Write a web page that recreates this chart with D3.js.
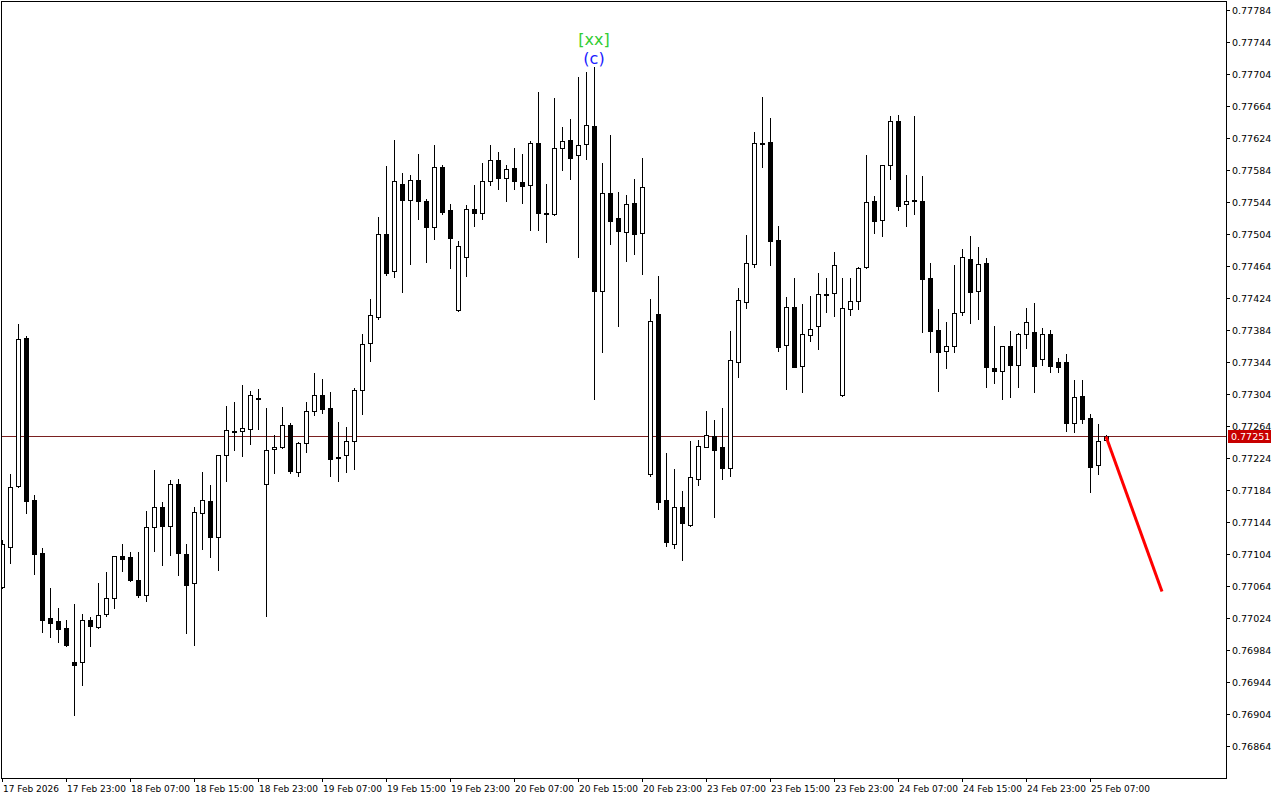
<!DOCTYPE html>
<html><head><meta charset="utf-8">
<script src="https://cdn.jsdelivr.net/npm/d3@7/dist/d3.min.js"></script>
<style>html,body{margin:0;padding:0;background:#fff;}svg{display:block;}</style>
</head><body>
<script>
const opens = [.77063,.77113,.77189,.77374,.77172,.77105,.77024,.77020,.77012,.76969,
.76969,.77022,.77013,.77029,.77049,.77102,.77100,.77072,.77053,.77138,
.77163,.77139,.77192,.77104,.77068,.77155,.77170,.77125,.77228,.77258,
.77258,.77260,.77299,.77192,.77235,.77238,.77265,.77207,.77243,.77283,
.77303,.77287,.77225,.77228,.77245,.77309,.77368,.77400,.77504,.77458,
.77567,.77547,.77572,.77545,.77513,.77588,.77534,.77409,.77475,.77535,
.77530,.77570,.77597,.77574,.77587,.77569,.77565,.77618,.77530,.77529,
.77612,.77622,.77603,.77617,.77639,.77433,.77555,.77524,.77507,.77543,
.77505,.77204,.77404,.77172,.77117,.77163,.77140,.77198,.77238,.77252,
.77238,.77212,.77344,.77419,.77467,.77618,.77619,.77497,.77365,.77413,
.77339,.77378,.77389,.77429,.77430,.77303,.77410,.77420,.77463,.77545,
.77522,.77590,.77645,.77542,.77547,.77545,.77449,.77384,.77358,.77364,
.77407,.77473,.77433,.77468,.77337,.77333,.77364,.77340,.77379,.77382,
.77348,.77379,.77344,.77344,.77268,.77302,.77274,.77215,.77247];
const highs = [.77122,.77204,.77392,.77377,.77178,.77112,.77062,.77037,.77022,.77042,
.77029,.77025,.77068,.77082,.77102,.77117,.77107,.77107,.77158,.77209,
.77169,.77197,.77198,.77117,.77163,.77207,.77190,.77228,.77289,.77294,
.77315,.77308,.77310,.77287,.77253,.77288,.77268,.77244,.77294,.77330,
.77323,.77307,.77269,.77263,.77312,.77379,.77423,.77525,.77589,.77622,
.77580,.77578,.77604,.77548,.77615,.77590,.77542,.77495,.77540,.77565,
.77593,.77615,.77607,.77590,.77612,.77604,.77620,.77682,.77567,.77674,
.77638,.77648,.77700,.77707,.77713,.77593,.77628,.77557,.77553,.77573,
.77599,.77423,.77452,.77230,.77210,.77183,.77245,.77247,.77283,.77272,
.77287,.77383,.77437,.77503,.77632,.77675,.77649,.77514,.77425,.77449,
.77417,.77427,.77455,.77449,.77482,.77449,.77449,.77463,.77603,.77552,
.77590,.77652,.77653,.77578,.77652,.77577,.77468,.77410,.77394,.77465,
.77485,.77502,.77488,.77474,.77389,.77364,.77383,.77380,.77412,.77418,
.77387,.77384,.77349,.77354,.77322,.77322,.77279,.77267,.77253];
const lows = [.77062,.77093,.77188,.77155,.77079,.77007,.77000,.76994,.76989,.76903,
.76940,.76989,.77012,.77027,.77037,.77083,.77070,.77050,.77045,.77108,
.77090,.77103,.77078,.77005,.76990,.77110,.77100,.77084,.77195,.77234,
.77227,.77242,.77260,.77027,.77205,.77237,.77205,.77202,.77232,.77278,
.77280,.77202,.77195,.77207,.77210,.77279,.77345,.77398,.77453,.77450,
.77432,.77467,.77523,.77469,.77498,.77529,.77462,.77408,.77452,.77514,
.77523,.77565,.77560,.77545,.77560,.77543,.77509,.77509,.77494,.77528,
.77584,.77573,.77475,.77598,.77298,.77357,.77492,.77389,.77470,.77479,
.77454,.77202,.77160,.77114,.77112,.77097,.77139,.77190,.77238,.77150,
.77198,.77202,.77325,.77412,.77463,.77588,.77465,.77358,.77310,.77338,
.77307,.77370,.77360,.77407,.77402,.77302,.77403,.77410,.77462,.77505,
.77502,.77573,.77534,.77514,.77529,.77382,.77357,.77308,.77337,.77357,
.77403,.77393,.77398,.77313,.77318,.77298,.77300,.77313,.77362,.77307,
.77340,.77332,.77332,.77258,.77257,.77268,.77182,.77204,.77247];
const closes = [.77117,.77188,.77373,.77170,.77104,.77022,.77018,.77010,.76990,.76965,
.77022,.77014,.77028,.77049,.77101,.77098,.77072,.77053,.77138,.77163,
.77139,.77192,.77105,.77065,.77157,.77172,.77125,.77228,.77259,.77258,
.77262,.77303,.77299,.77234,.77238,.77265,.77208,.77243,.77283,.77303,
.77285,.77223,.77225,.77245,.77309,.77367,.77403,.77504,.77455,.77570,
.77547,.77572,.77545,.77513,.77588,.77532,.77499,.77489,.77535,.77530,
.77570,.77597,.77574,.77585,.77570,.77564,.77618,.77530,.77530,.77612,
.77620,.77599,.77615,.77640,.77433,.77555,.77520,.77508,.77542,.77504,
.77563,.77395,.77169,.77119,.77163,.77143,.77200,.77239,.77253,.77234,
.77212,.77347,.77422,.77468,.77618,.77618,.77495,.77363,.77413,.77338,
.77379,.77385,.77429,.77429,.77465,.77412,.77420,.77462,.77544,.77520,
.77590,.77645,.77539,.77545,.77547,.77448,.77383,.77357,.77364,.77405,
.77475,.77432,.77467,.77338,.77333,.77364,.77340,.77379,.77394,.77339,
.77379,.77339,.77338,.77268,.77300,.77273,.77213,.77245,.77251];

const priceTickLabels = ["0.77784","0.77744","0.77704","0.77664","0.77624","0.77584","0.77544","0.77504",
"0.77464","0.77424","0.77384","0.77344","0.77304","0.77264","0.77224","0.77184","0.77144","0.77104",
"0.77064","0.77024","0.76984","0.76944","0.76904","0.76864"];
const timeTickIndex = [0,8,16,24,32,40,48,56,64,72,80,88,96,104,112,120,128,136];
const timeTickLabels = ["17 Feb 2026","17 Feb 23:00","18 Feb 07:00","18 Feb 15:00","18 Feb 23:00","19 Feb 07:00",
"19 Feb 15:00","19 Feb 23:00","20 Feb 07:00","20 Feb 15:00","20 Feb 23:00","23 Feb 07:00","23 Feb 15:00",
"23 Feb 23:00","24 Feb 07:00","24 Feb 15:00","24 Feb 23:00","25 Feb 07:00"];
const currentPrice = 0.77251;
const projectionIndex = [138, 145];
const projectionPrice = [0.77251, 0.77057];
const waveLabelIndex = 74;
const waveLabels = ["[xx]", "(c)"];

const W = 1280, H = 800;
const plotL = 1, plotR = 1226, plotT = 1, plotB = 778;

const svg = d3.select("body").append("svg").attr("width", W).attr("height", H)
  .style("font-family", "'DejaVu Sans', Tahoma, sans-serif");

const y = d3.scaleLinear().domain([0.76864, 0.77784]).range([746, 10]);
const x = d3.scaleLinear().domain([0, 138]).range([2, 1106]);

const data = opens.map((o, i) => ({i, o, h: highs[i], l: lows[i], c: closes[i]}));

svg.append("defs").append("clipPath").attr("id", "clip")
  .append("rect").attr("x", plotL + 1).attr("y", plotT + 1).attr("width", plotR - plotL - 1).attr("height", plotB - plotT - 1);

// frame
svg.append("rect").attr("x", plotL + 0.5).attr("y", plotT + 0.5)
  .attr("width", plotR - plotL).attr("height", plotB - plotT)
  .attr("fill", "none").attr("stroke", "#000").attr("stroke-width", 1).attr("shape-rendering", "crispEdges");

const g = svg.append("g").attr("clip-path", "url(#clip)").attr("shape-rendering", "crispEdges");

// current price line
const yCur = Math.round(y(currentPrice));
g.append("line").attr("x1", plotL).attr("x2", plotR).attr("y1", yCur + 0.5).attr("y2", yCur + 0.5)
  .attr("stroke", "#7a2020").attr("stroke-width", 1);

const candles = g.selectAll("g.c").data(data).join("g").attr("class", "c");
candles.append("line")
  .attr("x1", d => Math.round(x(d.i)) + 0.5).attr("x2", d => Math.round(x(d.i)) + 0.5)
  .attr("y1", d => Math.round(y(d.h))).attr("y2", d => Math.round(y(d.l)) + 1)
  .attr("stroke", "#000").attr("stroke-width", 1);
candles.append("rect")
  .attr("x", d => Math.round(x(d.i)) - 1.5)
  .attr("width", 4)
  .attr("y", d => Math.round(y(Math.max(d.o, d.c))) + 0.5)
  .attr("height", d => Math.max(1, Math.round(y(Math.min(d.o, d.c))) - Math.round(y(Math.max(d.o, d.c)))))
  .attr("fill", d => d.c > d.o ? "#fff" : "#000")
  .attr("stroke", "#000").attr("stroke-width", 1);

// projection arrow
svg.append("line")
  .attr("x1", x(projectionIndex[0])).attr("y1", y(projectionPrice[0]))
  .attr("x2", x(projectionIndex[1])).attr("y2", y(projectionPrice[1]))
  .attr("stroke", "#ff0000").attr("stroke-width", 3);

// wave labels
const wx = x(waveLabelIndex);
const wy = y(highs[waveLabelIndex]);
svg.append("text").attr("x", wx).attr("y", wy - 22).attr("text-anchor", "middle")
  .attr("font-size", 16).attr("fill", "#32cd32").text(waveLabels[0]);
svg.append("text").attr("x", wx).attr("y", wy - 3).attr("text-anchor", "middle")
  .attr("font-size", 16).attr("fill", "#1a1aff").text(waveLabels[1]);

// right price axis
const ya = svg.append("g").attr("shape-rendering", "crispEdges");
priceTickLabels.forEach(lbl => {
  const yy = Math.round(y(+lbl));
  ya.append("line").attr("x1", plotR).attr("x2", plotR + 4).attr("y1", yy + 0.5).attr("y2", yy + 0.5).attr("stroke", "#000");
  svg.append("text").attr("x", plotR + 6).attr("y", yy + 4).attr("font-size", 9.5).attr("fill", "#000").text(lbl);
});

// current price tag
svg.append("rect").attr("x", plotR + 2).attr("y", yCur - 6).attr("width", 43).attr("height", 13)
  .attr("fill", "#c80000").attr("shape-rendering", "crispEdges");
svg.append("text").attr("x", plotR + 5).attr("y", yCur + 4).attr("font-size", 9.5).attr("fill", "#fff").text(d3.format(".5f")(currentPrice));

// bottom time axis
timeTickIndex.forEach((ti, k) => {
  const xx = Math.round(x(ti));
  ya.append("line").attr("x1", xx + 0.5).attr("x2", xx + 0.5).attr("y1", plotB).attr("y2", plotB + 4).attr("stroke", "#000");
  svg.append("text").attr("x", xx + 1).attr("y", plotB + 14).attr("font-size", 9).attr("fill", "#000").text(timeTickLabels[k]);
});
</script>
</body></html>
